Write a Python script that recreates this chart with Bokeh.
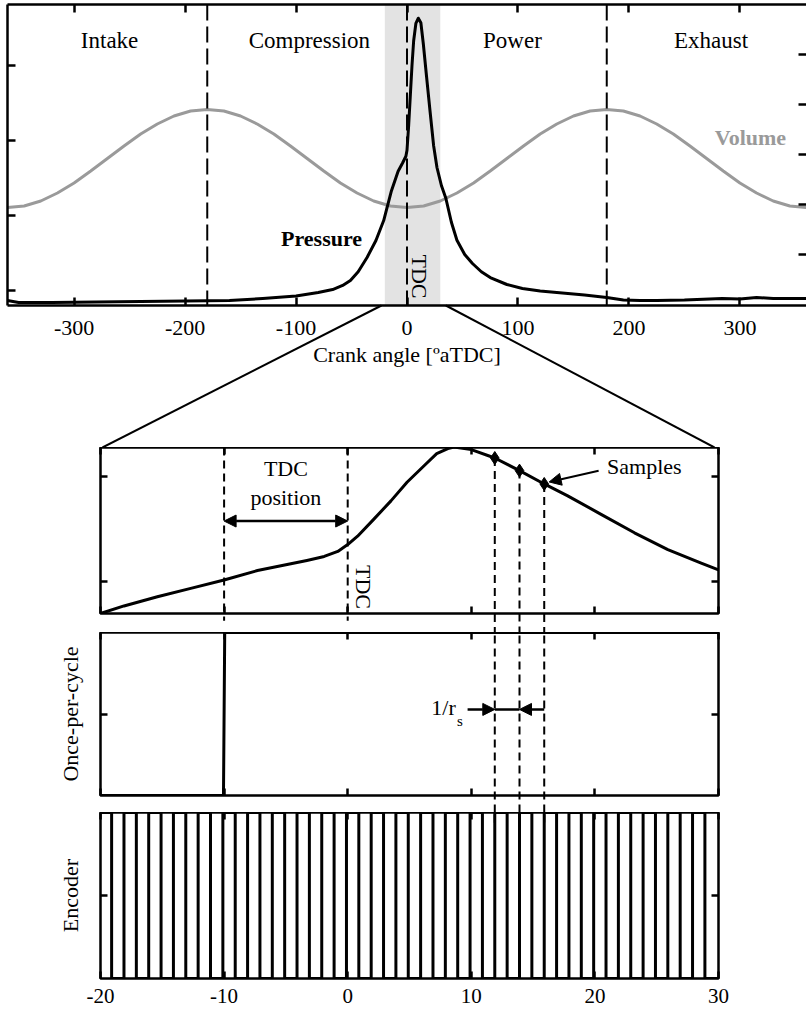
import math
from bokeh.plotting import figure
from bokeh.models import Range1d, LinearAxis, FixedTicker, BoxAnnotation, Span, Arrow, NormalHead
from bokeh.layouts import column
from bokeh.embed import file_html
from bokeh.resources import INLINE
from bokeh.core.properties import value

FONT = "Liberation Serif"

# ---------------- data: full engine cycle (top panel) ----------------
crank_angle = [-360, -350, -320, -280, -240, -200, -160, -130, -100, -80,
               -67, -58, -51, -44, -36, -28, -21, -14, -8, -4,
               -1, 0, 1.5, 3, 4.5, 6, 8, 10.2, 12.5, 14.7,
               17.5, 20.7, 24, 27, 31, 35, 40, 45, 52, 59,
               67, 75, 90, 104, 120, 135, 160, 180, 195, 210,
               225, 250, 284, 300, 315, 330, 360]
pressure = [-1.33, -1.6, -1.6, -1.53, -1.47, -1.4, -1.33, -1.07, -0.73, -0.27,
            0.13, 0.67, 1.33, 2.5, 4.4, 6.67, 9.33, 13.3, 15.9, 17.0,
            17.9, 18.7, 22, 26, 30, 33.3, 35.6, 36.3, 35.7, 32.9,
            28.7, 24, 19.3, 16.4, 14, 12.3, 9.1, 6.7, 4.8, 3.6,
            2.5, 1.73, 0.8, 0.27, -0.07, -0.27, -0.6, -0.93, -1.27, -1.33,
            -1.33, -1.27, -1.07, -1.13, -0.93, -1.07, -1.07]

vol_angle = [-360, -345, -330, -315, -300, -285, -270, -255, -240, -225, -210, -195,
             -180, -165, -150, -135, -120, -105, -90, -75, -60, -45, -30, -15,
             0, 15, 30, 45, 60, 75, 90, 105, 120, 135, 150, 165,
             180, 195, 210, 225, 240, 255, 270, 285, 300, 315, 330, 345, 360]
volume = [0.94, 0.97, 1.07, 1.23, 1.43, 1.67, 1.92, 2.17, 2.41, 2.61, 2.77, 2.87,
          2.90, 2.87, 2.77, 2.61, 2.41, 2.17, 1.92, 1.67, 1.43, 1.23, 1.07, 0.97,
          0.94, 0.97, 1.07, 1.23, 1.43, 1.67, 1.92, 2.17, 2.41, 2.61, 2.77, 2.87,
          2.90, 2.87, 2.77, 2.61, 2.41, 2.17, 1.92, 1.67, 1.43, 1.23, 1.07, 0.97, 0.94]

stroke_names = ["Intake", "Compression", "Power", "Exhaust"]
stroke_centres = [-268, -88, 95, 274]
stroke_bounds = [-180, 0, 180]
top_x_ticks = [-300, -200, -100, 0, 100, 200, 300]
pressure_ticks = [0, 10, 20, 30]
volume_ticks = [0, 1, 2, 3, 4]
zoom_window = [-20, 30]

# ---------------- data: zoomed window (inset panels) ----------------
inset_angle = [-20, -18.1, -15.4, -12.7, -10, -7.3, -4.6, -3.3, -1.9, -0.8,
               0, 0.8, 2.1, 3.5, 4.8, 6.2, 7.2, 8.1, 8.6, 10,
               11.9, 13.9, 15.9, 17.8, 20.5, 23.2, 25.9, 28.6, 30]
inset_pressure = [17.0, 17.72, 18.59, 19.39, 20.19, 21.09, 21.73, 22.05, 22.43, 22.91,
                  23.56, 24.36, 25.96, 27.72, 29.49, 31.09, 32.21, 32.69, 32.85, 32.6,
                  31.8, 30.6, 29.33, 28.2, 26.44, 24.68, 23.08, 21.8, 21.15]
sample_angle = [11.9, 13.9, 15.9]
sample_pressure = [31.8, 30.6, 29.33]
opc_angle = [-20, -10.05, -9.95, 30]
opc_level = [0, 0, 1, 1]
tdc_trigger = -10
encoder_edges = [-19.1, -18.1, -17.1, -16.1, -15.1, -14.1, -13.1, -12.1, -11.1, -10.1,
                 -9.1, -8.1, -7.1, -6.1, -5.1, -4.1, -3.1, -2.1, -1.1, -0.1,
                 0.9, 1.9, 2.9, 3.9, 4.9, 5.9, 6.9, 7.9, 8.9, 9.9,
                 10.9, 11.9, 12.9, 13.9, 14.9, 15.9, 16.9, 17.9, 18.9, 19.9,
                 20.9, 21.9, 22.9, 23.9, 24.9, 25.9, 26.9, 27.9, 28.9]
inset_x_ticks = [-20, -10, 0, 10, 20, 30]
inset_p_ticks = [20, 30]

# ---------------- layout constants (page has no margin) ----------------
TOP_W, TOP_H = 806, 447
TOP_BL, TOP_BT, TOP_BB = 7, 4, 142
TOP_FW = TOP_W - TOP_BL
TOP_FH = TOP_H - TOP_BT - TOP_BB
P_RANGE = (-2.0, 38.13)
V_RANGE = (-1.02, 5.0)
INSET_L, INSET_R, INSET_FW = 100, 88, 618


def make_axis(ticks, tick_len, labels=False, size="22px", standoff=10,
              y_range_name=None, axis_label=None, label_standoff=5, line=False):
    kw = {"y_range_name": y_range_name} if y_range_name else {}
    ax = LinearAxis(ticker=FixedTicker(ticks=ticks), **kw)
    if line:
        ax.axis_line_color = "black"
        ax.axis_line_width = 2.5
    else:
        ax.axis_line_color = None
    ax.major_tick_in = tick_len
    ax.major_tick_out = 0
    ax.minor_tick_in = 0
    ax.minor_tick_out = 0
    ax.major_tick_line_width = 2.5
    ax.major_tick_line_color = "black"
    if labels:
        ax.major_label_text_font = FONT
        ax.major_label_text_font_size = size
        ax.major_label_text_color = "black"
        ax.major_label_standoff = standoff
        ax.major_label_overrides = {t: str(t) for t in ticks}
    else:
        ax.major_label_text_font_size = "1px"
        ax.major_label_text_color = None
        ax.major_label_text_alpha = 0
        ax.major_label_standoff = 0
    if axis_label:
        ax.axis_label = axis_label
        ax.axis_label_text_font = FONT
        ax.axis_label_text_font_size = size
        ax.axis_label_text_font_style = "normal"
        ax.axis_label_text_color = "black"
        ax.axis_label_standoff = label_standoff
    return ax


# ================= top panel =================
top = figure(width=TOP_W, height=TOP_H, x_range=Range1d(-360, 360), y_range=Range1d(*P_RANGE),
             output_backend="svg", toolbar_location=None,
             x_axis_location=None, y_axis_location=None,
             min_border_left=TOP_BL, min_border_right=0, min_border_top=TOP_BT,
             min_border_bottom=TOP_BB)
top.extra_y_ranges = {"vol": Range1d(*V_RANGE)}
top.grid.visible = False
top.outline_line_color = None   # frame drawn by the axis lines; right edge lies off the page

top.add_layout(make_axis(top_x_ticks, 8, labels=True, standoff=15, line=True,
                         axis_label="Crank angle [ºaTDC]", label_standoff=4), "below")
top.add_layout(make_axis(top_x_ticks, 8, line=True), "above")
top.add_layout(make_axis(pressure_ticks, 8, line=True), "left")
top.add_layout(make_axis(volume_ticks, 8, y_range_name="vol"), "right")

top.add_layout(BoxAnnotation(left=zoom_window[0], right=zoom_window[1], fill_color="#e3e3e3",
                             fill_alpha=1, line_color=None, level="underlay"))
for b in stroke_bounds:
    top.add_layout(Span(location=b, dimension="height", line_color="black",
                        line_width=2, line_dash="16 6"))

top.line(vol_angle, volume, y_range_name="vol", line_color="#9a9a9a", line_width=3)
top.line(crank_angle, pressure, line_color="black", line_width=3, line_join="round")

top.text(x=stroke_centres, y=[33.3] * 4, text=stroke_names, text_font=value(FONT),
         text_font_size="23px", text_align="center", text_baseline="middle", text_color="black")
top.text(x=[-77], y=[6.9], text=["Pressure"], text_font=value(FONT), text_font_style="bold",
         text_font_size="22px", text_align="center", text_baseline="middle", text_color="black")
top.text(x=[309.5], y=[2.34], y_range_name="vol", text=["Volume"], text_font=value(FONT),
         text_font_style="bold", text_font_size="22px", text_align="center",
         text_baseline="middle", text_color="#9a9a9a")
top.text(x=[11.7], y=[1.87], text=["TDC"], angle=-math.pi / 2, text_font=value(FONT),
         text_font_size="22px", text_align="center", text_baseline="middle", text_color="black")


# connector lines from the zoom window down to the inset frame corners
def top_x_at(page_x):
    return -360 + (page_x - TOP_BL) / TOP_FW * 720


y_canvas_bottom = P_RANGE[0] - TOP_BB / TOP_FH * (P_RANGE[1] - P_RANGE[0])
top.line([-23, top_x_at(INSET_L + 2)], [P_RANGE[0], y_canvas_bottom],
         line_color="black", line_width=2, level="overlay")
top.line([35, top_x_at(INSET_L + INSET_FW - 4)], [P_RANGE[0], y_canvas_bottom],
         line_color="black", line_width=2, level="overlay")


# ================= inset panels =================
def inset_panel(y_range, fh, y_ticks, border_bottom, ylabel=None, show_x=False):
    p = figure(frame_width=INSET_FW, frame_height=fh, x_range=Range1d(-20, 30), y_range=y_range,
               output_backend="svg", toolbar_location=None,
               x_axis_location=None, y_axis_location=None,
               min_border_left=INSET_L, min_border_right=INSET_R, min_border_top=0,
               min_border_bottom=border_bottom)
    p.grid.visible = False
    p.outline_line_color = "black"
    p.outline_line_width = 2.5
    p.outline_line_alpha = 1
    p.add_layout(make_axis(inset_x_ticks, 7, labels=show_x, size="21px", standoff=10), "below")
    p.add_layout(make_axis(inset_x_ticks, 7), "above")
    p.add_layout(make_axis(y_ticks, 7, axis_label=ylabel, size="22px", label_standoff=18), "left")
    p.add_layout(make_axis(y_ticks, 7), "right")
    return p


dash = "8 5"

# --- panel 1: zoomed pressure
p1 = inset_panel(Range1d(17.0, 32.8), 166, inset_p_ticks, 19)
p1.segment(x0=[tdc_trigger, 0], y0=[32.8, 32.8], x1=[tdc_trigger, 0], y1=[16.3, 16.3],
           line_color="black", line_width=2, line_dash=dash, level="overlay")
p1.segment(x0=sample_angle, y0=sample_pressure, x1=sample_angle, y1=[10, 10, 10],
           line_color="black", line_width=2, line_dash=dash, level="overlay")
p1.line(inset_angle, inset_pressure, line_color="black", line_width=3, line_join="round")
p1.scatter(sample_angle, sample_pressure, marker="diamond", size=13, fill_color="black",
           line_color="black")
p1.add_layout(Arrow(start=NormalHead(size=12, fill_color="black", line_color="black"),
                    end=NormalHead(size=12, fill_color="black", line_color="black"),
                    x_start=tdc_trigger, y_start=25.8, x_end=0, y_end=25.8,
                    line_width=2.5, line_color="black"))
p1.text(x=[-5, -5], y=[30.77, 28.08], text=["TDC", "position"], text_font=value(FONT),
        text_font_size="22px", text_align="center", text_baseline="middle", text_color="black")
p1.text(x=[1.3], y=[19.52], text=["TDC"], angle=-math.pi / 2, text_font=value(FONT),
        text_font_size="22px", text_align="center", text_baseline="middle", text_color="black")
p1.text(x=[24.0], y=[30.96], text=["Samples"], text_font=value(FONT),
        text_font_size="22px", text_align="center", text_baseline="middle", text_color="black")
p1.add_layout(Arrow(end=NormalHead(size=12, fill_color="black", line_color="black"),
                    x_start=20.3, y_start=30.58, x_end=16.3, y_end=29.52,
                    line_width=2, line_color="black"))

# --- panel 2: once-per-cycle
p2 = inset_panel(Range1d(0, 1), 163, [0.5], 17, ylabel="Once-per-cycle")
p2.segment(x0=sample_angle, y0=[1.3] * 3, x1=sample_angle, y1=[-0.5] * 3,
           line_color="black", line_width=2, line_dash=dash, level="overlay")
p2.line(opc_angle, opc_level, line_color="black", line_width=3)
p2.add_layout(Arrow(end=NormalHead(size=12, fill_color="black", line_color="black"),
                    x_start=9.7, y_start=0.528, x_end=sample_angle[0], y_end=0.528,
                    line_width=2.5, line_color="black"))
p2.line([sample_angle[0], sample_angle[1]], [0.528, 0.528], line_color="black", line_width=2.5)
p2.add_layout(Arrow(end=NormalHead(size=12, fill_color="black", line_color="black"),
                    x_start=sample_angle[2], y_start=0.528, x_end=sample_angle[1], y_end=0.528,
                    line_width=2.5, line_color="black"))
p2.text(x=[8.74], y=[0.54], text=["1/r"], text_font=value(FONT), text_font_size="22px",
        text_align="right", text_baseline="middle", text_color="black")
p2.text(x=[8.85], y=[0.46], text=["s"], text_font=value(FONT), text_font_size="15px",
        text_align="left", text_baseline="middle", text_color="black")

# --- panel 3: encoder
enc_x, enc_y = [-20], [1]
level = 1
for e in encoder_edges:
    enc_x += [e, e]
    enc_y += [level, 1 - level]
    level = 1 - level
enc_x.append(30)
enc_y.append(level)

p3 = inset_panel(Range1d(0, 1), 166, [0.5], 33, ylabel="Encoder", show_x=True)
p3.line(enc_x, enc_y, line_color="black", line_width=3, line_join="miter")
p3.segment(x0=sample_angle, y0=[1.3] * 3, x1=sample_angle, y1=[0.91, 0.93, 0.94],
           line_color="black", line_width=2, line_dash=dash, level="overlay")

inset = column(p1, p2, p3, spacing=0)
open("out.html", "w").write(file_html([top, inset], INLINE))
